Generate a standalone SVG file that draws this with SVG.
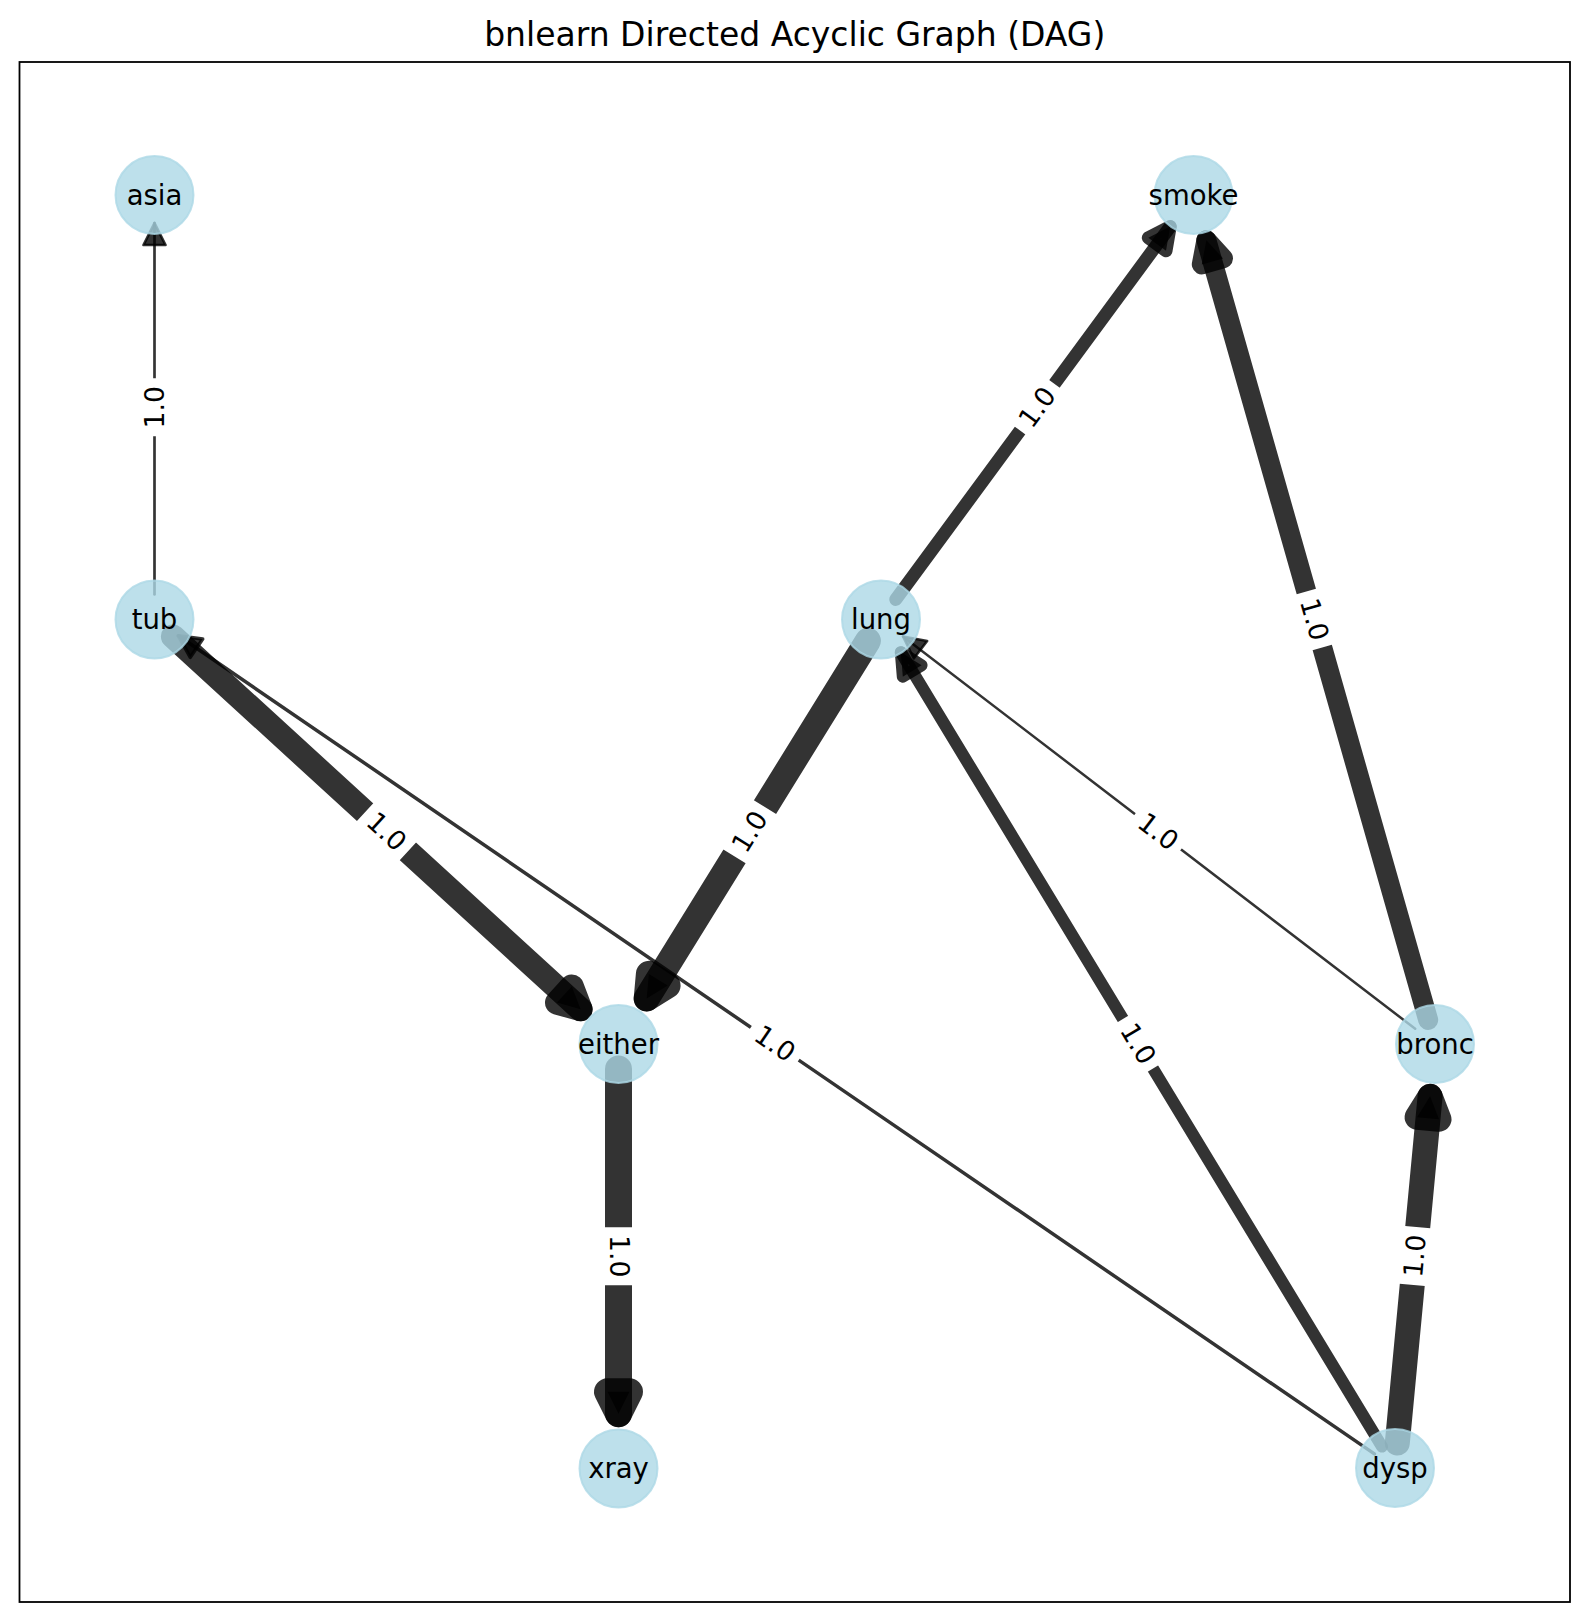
<svg xmlns="http://www.w3.org/2000/svg" width="1589" height="1622" viewBox="0 0 1589 1622">
<style>
.e{stroke:#000;stroke-opacity:0.8;stroke-linecap:round;fill:none}
.h{fill:#000;fill-opacity:0.8;stroke:#000;stroke-opacity:0.8;stroke-linejoin:round}
.n circle{fill:#add8e6;fill-opacity:0.8;stroke:#add8e6;stroke-opacity:0.8;stroke-width:2}
.n text{font-family:"DejaVu Sans","Liberation Sans",sans-serif;font-size:27.5px;text-anchor:middle;fill:#000}
.lb rect{fill:#fff}
.lb text{font-family:"DejaVu Sans","Liberation Sans",sans-serif;font-size:26.7px;text-anchor:middle;fill:#000}
</style>
<rect x="0" y="0" width="1589" height="1622" fill="#fff"/>
<text x="794.75" y="46" style="font-family:'DejaVu Sans','Liberation Sans',sans-serif;font-size:33px;text-anchor:middle;fill:#000">bnlearn Directed Acyclic Graph (DAG)</text>
<rect x="19.5" y="62" width="1550.5" height="1540" fill="none" stroke="#000" stroke-width="1.8"/>
<g id="edges">
  <!-- tub -> asia -->
  <line class="e" x1="154.5" y1="594.5" x2="154.5" y2="223" stroke-width="2.7"/>
  <polygon class="h" points="154.5,223 143.5,245 165.5,245" stroke-width="2.7"/>
  <!-- lung -> smoke -->
  <line class="e" x1="895.8" y1="599.4" x2="1170.2" y2="226.6" stroke-width="13"/>
  <polygon class="h" points="1170.2,226.6 1166.0,250.8 1148.3,237.8" stroke-width="13"/>
  <!-- bronc -> smoke -->
  <line class="e" x1="1428.2" y1="1020.0" x2="1206.4" y2="240.2" stroke-width="20"/>
  <polygon class="h" points="1206.4,240.2 1223.0,258.4 1201.8,264.4" stroke-width="20"/>
  <!-- tub -> either -->
  <line class="e" x1="172.9" y1="636.4" x2="580.6" y2="1009.3" stroke-width="24"/>
  <polygon class="h" points="580.6,1009.3 557.0,1002.6 571.8,986.4" stroke-width="24"/>
  <!-- lung -> either -->
  <line class="e" x1="867.9" y1="640.8" x2="646.7" y2="998.4" stroke-width="26"/>
  <polygon class="h" points="646.7,998.4 667.6,985.5 648.9,973.9" stroke-width="26"/>
  <!-- dysp -> tub -->
  <line class="e" x1="1374.4" y1="1453.9" x2="178.4" y2="635.8" stroke-width="3.5"/>
  <polygon class="h" points="178.4,635.8 202.7,639.1 190.3,657.3" stroke-width="3.5"/>
  <!-- dysp -> lung -->
  <line class="e" x1="1382.0" y1="1446.6" x2="900.8" y2="652.2" stroke-width="12"/>
  <polygon class="h" points="900.8,652.2 921.6,665.3 902.8,676.7" stroke-width="12"/>
  <!-- bronc -> lung -->
  <line class="e" x1="1415.2" y1="1028.8" x2="903.0" y2="636.4" stroke-width="2.5"/>
  <polygon class="h" points="903.0,636.4 927.2,641.1 913.8,658.5" stroke-width="2.5"/>
  <!-- either -> xray -->
  <line class="e" x1="618.5" y1="1069" x2="618.5" y2="1413.8" stroke-width="27"/>
  <polygon class="h" points="618.5,1413.8 607.5,1391.8 629.5,1391.8" stroke-width="27"/>
  <!-- dysp -> bronc -->
  <line class="e" x1="1397.3" y1="1443.1" x2="1430.1" y2="1096.3" stroke-width="25"/>
  <polygon class="h" points="1430.1,1096.3 1439.0,1119.2 1417.1,1117.2" stroke-width="25"/>
</g>
<g id="edge-labels" class="lb">
  <g transform="translate(154.5,407.25) rotate(-90)"><rect x="-29" y="-23.5" width="58" height="47" rx="8"/><text y="9">1.0</text></g>
  <g transform="translate(1037.25,407.25) rotate(-53.6)"><rect x="-29" y="-23.5" width="58" height="47" rx="8"/><text y="9">1.0</text></g>
  <g transform="translate(1314.25,619.5) rotate(74.1)"><rect x="-29" y="-23.5" width="58" height="47" rx="8"/><text y="9">1.0</text></g>
  <g transform="translate(386.5,831.75) rotate(42.5)"><rect x="-29" y="-23.5" width="58" height="47" rx="8"/><text y="9">1.0</text></g>
  <g transform="translate(749.75,831.75) rotate(-58.3)"><rect x="-29" y="-23.5" width="58" height="47" rx="8"/><text y="9">1.0</text></g>
  <g transform="translate(774.75,1043.75) rotate(34.4)"><rect x="-29" y="-23.5" width="58" height="47" rx="8"/><text y="9">1.0</text></g>
  <g transform="translate(1138,1043.75) rotate(58.8)"><rect x="-29" y="-23.5" width="58" height="47" rx="8"/><text y="9">1.0</text></g>
  <g transform="translate(1158,831.75) rotate(37.5)"><rect x="-29" y="-23.5" width="58" height="47" rx="8"/><text y="9">1.0</text></g>
  <g transform="translate(618.5,1256.25) rotate(90)"><rect x="-29" y="-23.5" width="58" height="47" rx="8"/><text y="9">1.0</text></g>
  <g transform="translate(1415,1256) rotate(-84.6)"><rect x="-29" y="-23.5" width="58" height="47" rx="8"/><text y="9">1.0</text></g>
</g>
<g id="node-asia" class="n"><circle cx="154.5" cy="195" r="39"/><text x="154.5" y="204.5">asia</text></g>
<g id="node-smoke" class="n"><circle cx="1193.5" cy="195" r="39"/><text x="1193.5" y="204.5">smoke</text></g>
<g id="node-tub" class="n"><circle cx="154.5" cy="619.5" r="39"/><text x="154.5" y="629">tub</text></g>
<g id="node-lung" class="n"><circle cx="881" cy="619.5" r="39"/><text x="881" y="629">lung</text></g>
<g id="node-either" class="n"><circle cx="618.5" cy="1044" r="39"/><text x="618.5" y="1053.5">either</text></g>
<g id="node-bronc" class="n"><circle cx="1435" cy="1044" r="39"/><text x="1435" y="1053.5">bronc</text></g>
<g id="node-xray" class="n"><circle cx="618.5" cy="1468.5" r="39"/><text x="618.5" y="1478">xray</text></g>
<g id="node-dysp" class="n"><circle cx="1395" cy="1468" r="39"/><text x="1395" y="1477.5">dysp</text></g>
</svg>
